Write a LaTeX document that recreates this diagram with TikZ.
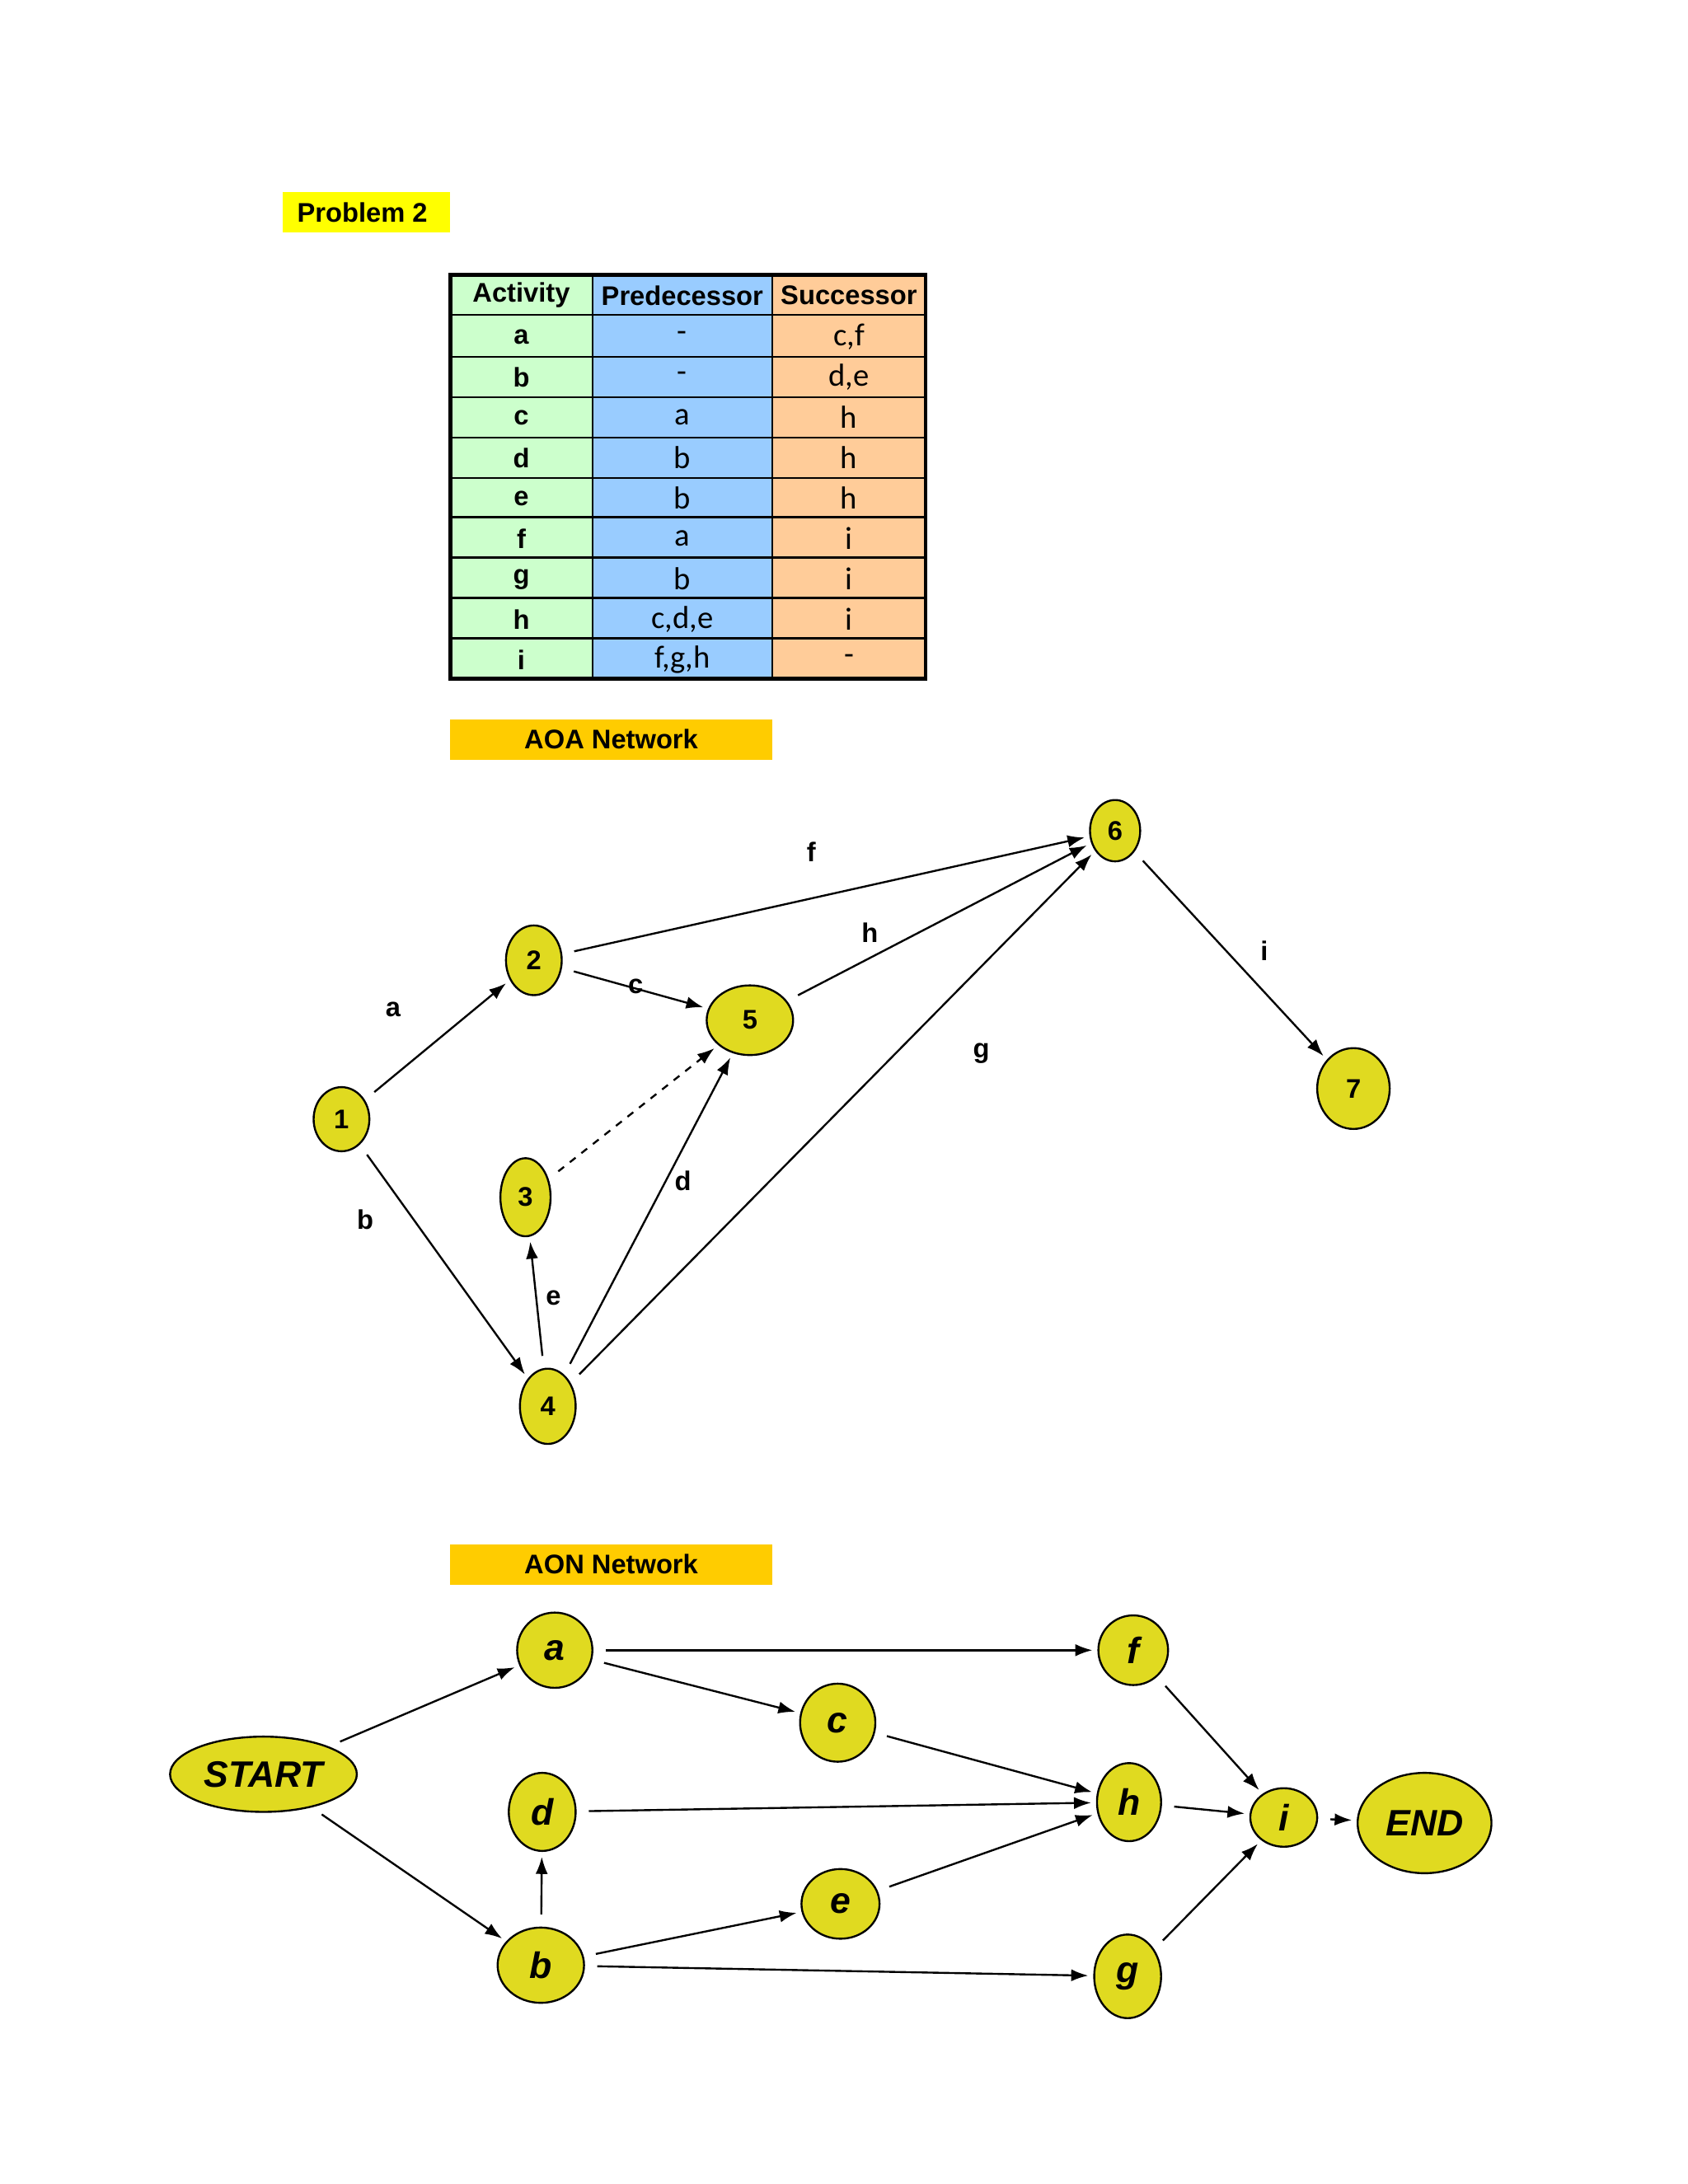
\documentclass[tikz,border=0pt]{standalone}
\usepackage{fontspec}
\setmainfont{Liberation Sans}
\newfontfamily\carlitofont{Carlito}
\usetikzlibrary{shapes.geometric,arrows.meta}
\definecolor{ny}{HTML}{E0DA20}
\definecolor{hy}{HTML}{FFFF00}
\definecolor{ho}{HTML}{FFCC00}
\definecolor{cg}{HTML}{CCFFCC}
\definecolor{cb}{HTML}{99CCFF}
\definecolor{co}{HTML}{FFCC99}
\begin{document}
\begin{tikzpicture}[x=0.02cm,y=-0.02cm,
 sz/.style n args={2}{minimum width={#1*0.02cm},minimum height={#2*0.02cm}},
 nd/.style={ellipse,draw,thick,fill=ny,inner sep=0pt,font=\fontsize{11}{13}\selectfont\bfseries},
 an/.style={ellipse,draw,thick,fill=ny,inner sep=0pt,font=\fontsize{15}{17}\selectfont\bfseries\itshape},
 ar/.style={-{Latex[length=7pt,width=5pt]},thick,shorten <=5pt,shorten >=2pt},
 lb/.style={font=\fontsize{11}{13}\selectfont\bfseries},
 tt/.style={font=\fontsize{11}{13}\selectfont\bfseries},
 tc/.style={font=\carlitofont\fontsize{13}{15}\selectfont}]
\useasboundingbox[fill=white] (0,0) rectangle (1211,1567);
% titles
\fill[hy] (203,138) rectangle (323,167);
\node[tt,anchor=west] (p2) at (207,152.5) {Problem 2};
\fill[ho] (323,516) rectangle (554,545);
\node[tt] (aoa) at (438.5,530.5) {AOA Network};
\fill[ho] (323,1108) rectangle (554,1137);
\node[tt] (aon) at (438.5,1122.5) {AON Network};
% table
\fill[cg] (323,197) rectangle (425,487);
\fill[cb] (425,197) rectangle (554,487);
\fill[co] (554,197) rectangle (664,487);
\foreach \y in {226,256,285,314,343,371,400,429,458} \draw[thick] (323,\y)--(664,\y);
\draw[thick] (425,197)--(425,487) (554,197)--(554,487);
\draw[line width=1.6pt] (323,197) rectangle (664,487);
\node[tt] (h1) at (374,212) {Activity};
\node[tt] (h2) at (489.5,212) {Predecessor};
\node[tt] (h3) at (609,212) {Successor};
\foreach \a/\p/\s [count=\i] in {a/-/{c,f},b/-/{d,e},c/a/h,d/b/h,e/b/h,f/a/i,g/b/i,h/{c,d,e}/i,i/{f,g,h}/-}{
 \pgfmathsetmacro{\yy}{227+(\i-0.5)*29}
 \node[tt] at (374,\yy) {\a};
 \node[tc] at (489.5,\yy) {\p};
 \node[tc] at (609,\yy) {\s};
}
% AOA
\node[nd,sz={40}{46}] (n1) at (245,803) {1};
\node[nd,sz={40}{50}] (n2) at (383,689) {2};
\node[nd,sz={36}{56}] (n3) at (377,859) {3};
\node[nd,sz={40}{54}] (n4) at (393,1009) {4};
\node[nd,sz={62}{50}] (n5) at (538,732) {5};
\node[nd,sz={36}{44}] (n6) at (800,596) {6};
\node[nd,sz={52}{58}] (n7) at (971,781) {7};
\draw[ar] (n1)--(n2);
\draw[ar] (n1)--(n4);
\draw[ar] (n2)--(n5);
\draw[ar] (n2)--(n6);
\draw[ar,dashed] (n3)--(n5);
\draw[ar] (n4)--(n3);
\draw[ar] (n4)--(n5);
\draw[ar] (n4)--(n6);
\draw[ar] (n5)--(n6);
\draw[ar] (n6)--(n7);
\node[lb] (la) at (282,724) {a};
\node[lb] (lbb) at (262,875) {b};
\node[lb] (lc) at (456,708) {c};
\node[lb] (ld) at (490,847) {d};
\node[lb] (le) at (397,931) {e};
\node[lb] (lf) at (582,611) {f};
\node[lb] (lg) at (704,756) {g};
\node[lb] (lh) at (624,669) {h};
\node[lb] (li) at (907,682) {i};
% AON
\node[an,sz={54}{54}] (a) at (398,1184) {a};
\node[an,sz={50}{50}] (f) at (813,1184) {f};
\node[an,sz={54}{56}] (c) at (601,1236) {c};
\node[an,sz={134}{54}] (st) at (189,1273) {START};
\node[an,sz={48}{56}] (d) at (389,1300) {d};
\node[an,sz={46}{56}] (h) at (810,1293) {h};
\node[an,sz={48}{42}] (i) at (921,1304) {i};
\node[an,sz={96}{72}] (en) at (1022,1308) {END};
\node[an,sz={56}{50}] (e) at (603,1366) {e};
\node[an,sz={62}{54}] (b) at (388,1410) {b};
\node[an,sz={48}{60}] (g) at (809,1418) {g};
\draw[ar] (st)--(a);
\draw[ar] (st)--(b);
\draw[ar] (a)--(f);
\draw[ar] (a)--(c);
\draw[ar] (c)--(h);
\draw[ar] (d)--(h);
\draw[ar] (b)--(d);
\draw[ar] (b)--(e);
\draw[ar] (e)--(h);
\draw[ar] (b)--(g);
\draw[ar] (f)--(i);
\draw[ar] (h)--(i);
\draw[ar] (g)--(i);
\draw[ar] (i)--(en);
\end{tikzpicture}
\end{document}
